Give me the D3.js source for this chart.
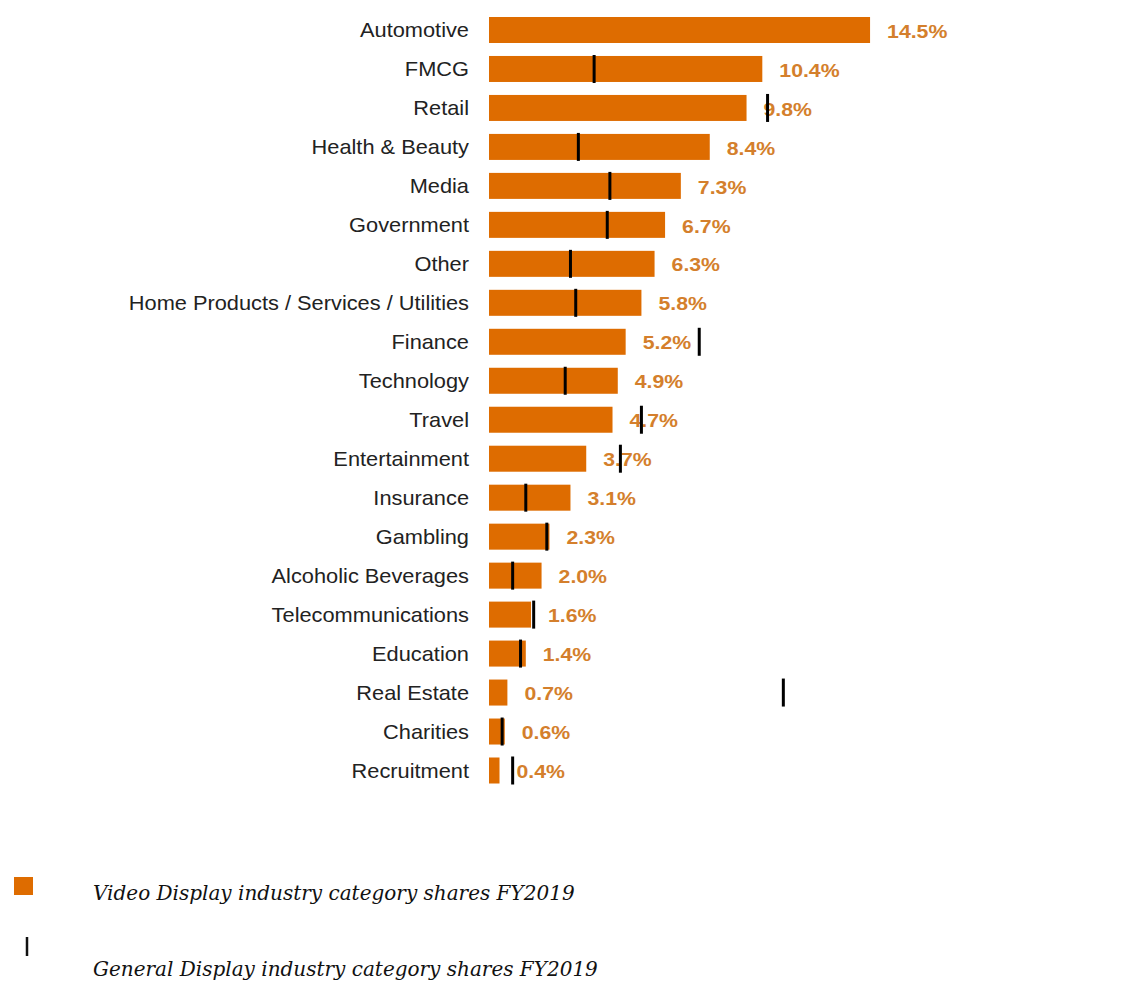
<!DOCTYPE html>
<html>
<head>
<meta charset="utf-8">
<script src="https://cdn.jsdelivr.net/npm/d3@7"></script>
<style>
  html, body { margin: 0; padding: 0; background: #fff; }
  svg { display: block; }
</style>
</head>
<body>
<svg id="chart" width="1129" height="982"></svg>
<script>
// Industry categories, top to bottom
const categories = [
  "Automotive", "FMCG", "Retail", "Health & Beauty", "Media", "Government", "Other",
  "Home Products / Services / Utilities", "Finance", "Technology", "Travel",
  "Entertainment", "Insurance", "Gambling", "Alcoholic Beverages",
  "Telecommunications", "Education", "Real Estate", "Charities", "Recruitment"
];
// Video Display shares FY2019 (%)
const videoShares = [14.5, 10.4, 9.8, 8.4, 7.3, 6.7, 6.3, 5.8, 5.2, 4.9, 4.7, 3.7, 3.1, 2.3, 2.0, 1.6, 1.4, 0.7, 0.6, 0.4];
// General Display shares FY2019 (%), null where no marker is drawn
const generalShares = [null, 4.0, 10.6, 3.4, 4.6, 4.5, 3.1, 3.3, 8.0, 2.9, 5.8, 5.0, 1.4, 2.2, 0.9, 1.7, 1.2, 11.2, 0.5, 0.9];
const legendLabels = [
  "Video Display industry category shares FY2019",
  "General Display industry category shares FY2019"
];

const rows = categories.map((c, i) => ({ cat: c, video: videoShares[i], general: generalShares[i] }));

const svg = d3.select("#chart");
const BAR = "#DE6C00";
const LABEL = "#D47F2C";

const x = d3.scaleLinear().domain([0, 15]).range([489, 489 + 15 * 26.28]);
const y = d3.scalePoint().domain(categories).range([30, 770.5]);
const barH = 26;

// category labels (slightly widened type)
svg.append("g").selectAll("text").data(rows).join("text")
  .attr("transform", d => `translate(469,${y(d.cat)}) scale(1.09,1)`)
  .attr("dy", "0.35em")
  .attr("text-anchor", "end")
  .attr("font-family", "Liberation Sans, Arial, sans-serif")
  .attr("font-size", 20)
  .attr("fill", "#222")
  .text(d => d.cat);

// video display bars
svg.append("g").selectAll("rect").data(rows).join("rect")
  .attr("x", x(0))
  .attr("y", d => y(d.cat) - barH / 2)
  .attr("width", d => x(d.video) - x(0))
  .attr("height", barH)
  .attr("fill", BAR);

// value labels
svg.append("g").selectAll("text").data(rows).join("text")
  .attr("transform", d => `translate(${x(d.video) + 17},${y(d.cat) + 1}) scale(1.12,1)`)
  .attr("dy", "0.35em")
  .attr("font-family", "Liberation Sans, Arial, sans-serif")
  .attr("font-weight", "bold")
  .attr("font-size", 19)
  .attr("fill", LABEL)
  .text(d => d.video.toFixed(1) + "%");

// general display markers
svg.append("g").selectAll("line").data(rows.filter(d => d.general != null)).join("line")
  .attr("x1", d => x(d.general))
  .attr("x2", d => x(d.general))
  .attr("y1", d => y(d.cat) - 14)
  .attr("y2", d => y(d.cat) + 14)
  .attr("stroke", "#000")
  .attr("stroke-width", 3);

// legend
const legend = svg.append("g");
legend.append("rect").attr("x", 14).attr("y", 877).attr("width", 19).attr("height", 18).attr("fill", BAR);
legend.append("line").attr("x1", 27).attr("x2", 27).attr("y1", 937).attr("y2", 956)
  .attr("stroke", "#111").attr("stroke-width", 2.5);
legend.selectAll("text").data(legendLabels).join("text")
  .attr("x", 93)
  .attr("y", (d, i) => i === 0 ? 900 : 976)
  .attr("font-family", "DejaVu Serif, Georgia, serif")
  .attr("font-style", "italic")
  .attr("font-size", 20)
  .attr("fill", "#111")
  .text(d => d);
</script>
</body>
</html>
